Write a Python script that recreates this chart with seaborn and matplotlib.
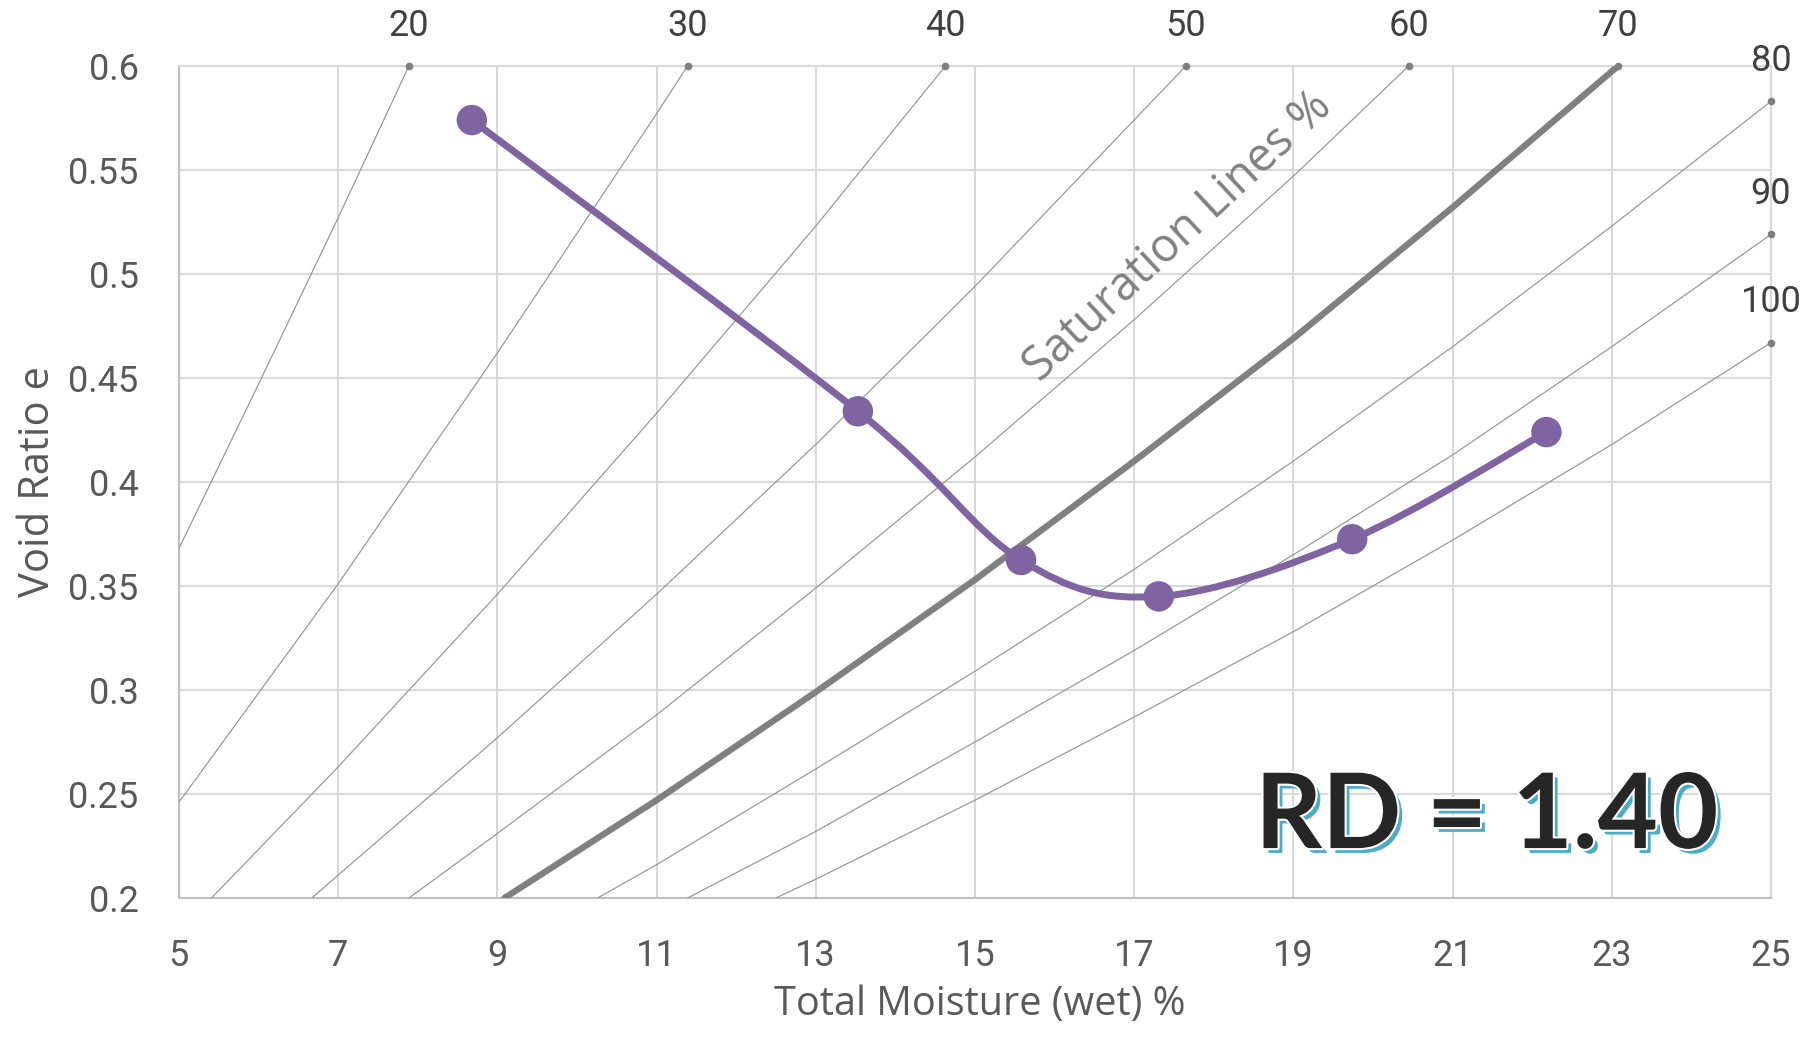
import matplotlib
matplotlib.use("Agg")
import matplotlib.pyplot as plt
import matplotlib.patheffects as pe
from matplotlib.path import Path
from matplotlib.patches import PathPatch
import seaborn as sns
import numpy as np

# ---------------- data ----------------
MOISTURE = [8.68, 13.53, 15.58, 17.31, 19.74, 22.18]      # Total moisture (wet) %
VOID_RATIO = [0.574, 0.434, 0.3625, 0.345, 0.3725, 0.424]  # void ratio e

SAT_LEVELS = [20, 30, 40, 50, 60, 70, 80, 90, 100]
SAT_20_X = [5, 6, 7, 7.89]
SAT_20_E = [0.368, 0.447, 0.527, 0.600]
SAT_30_X = [5, 7, 9, 11, 11.39]
SAT_30_E = [0.246, 0.351, 0.462, 0.577, 0.600]
SAT_40_X = [5.41, 7, 9, 11, 13, 14.63]
SAT_40_E = [0.200, 0.263, 0.346, 0.433, 0.523, 0.600]
SAT_50_X = [6.67, 7, 9, 11, 13, 15, 17, 17.65]
SAT_50_E = [0.200, 0.211, 0.277, 0.346, 0.418, 0.494, 0.574, 0.600]
SAT_60_X = [7.89, 9, 11, 13, 15, 17, 19, 20.45]
SAT_60_E = [0.200, 0.231, 0.288, 0.349, 0.412, 0.478, 0.547, 0.600]
SAT_70_X = [9.09, 11, 13, 15, 17, 19, 21, 23.08]
SAT_70_E = [0.200, 0.247, 0.299, 0.353, 0.410, 0.469, 0.532, 0.600]
SAT_80_X = [10.26, 11, 13, 15, 17, 19, 21, 23, 25]
SAT_80_E = [0.200, 0.216, 0.262, 0.309, 0.358, 0.410, 0.465, 0.523, 0.583]
SAT_90_X = [11.39, 13, 15, 17, 19, 21, 23, 25]
SAT_90_E = [0.200, 0.232, 0.275, 0.319, 0.365, 0.413, 0.465, 0.519]
SAT_100_X = [12.5, 13, 15, 17, 19, 21, 23, 25]
SAT_100_E = [0.200, 0.209, 0.247, 0.287, 0.328, 0.372, 0.418, 0.467]

SAT_X = [SAT_20_X, SAT_30_X, SAT_40_X, SAT_50_X, SAT_60_X, SAT_70_X, SAT_80_X, SAT_90_X, SAT_100_X]
SAT_E = [SAT_20_E, SAT_30_E, SAT_40_E, SAT_50_E, SAT_60_E, SAT_70_E, SAT_80_E, SAT_90_E, SAT_100_E]

X_TICKS = [5, 7, 9, 11, 13, 15, 17, 19, 21, 23, 25]
Y_TICKS = [0.2, 0.25, 0.3, 0.35, 0.4, 0.45, 0.5, 0.55, 0.6]
Y_TICK_LABELS = ["0.2", "0.25", "0.3", "0.35", "0.4", "0.45", "0.5", "0.55", "0.6"]

RD_TEXT = "RD = 1.40"
SAT_TITLE = "Saturation Lines %"
X_TITLE = "Total Moisture (wet) %"
Y_TITLE = "Void Ratio e"

# ---------------- style ----------------
sns.set_theme(style="white")
plt.rcParams["font.family"] = ["Roboto", "DejaVu Sans"]

W, H = 1813, 1037
fig = plt.figure(figsize=(W / 100, H / 100), dpi=100)
ax = fig.add_axes([178.9 / W, 1 - 898 / H, (1770.9 - 178.9) / W, (898 - 66) / H])

GRID = "#D9D9D9"
LINE_GRAY = "#959595"
PURPLE = "#8064A2"

# saturation lines
for lvl, xs, es in zip(SAT_LEVELS, SAT_X, SAT_E):
    thick = (lvl == 70)
    sns.lineplot(x=xs, y=es, ax=ax, color="#808080" if thick else LINE_GRAY,
                 linewidth=4.6 if thick else 0.85, legend=False, zorder=3,
                 solid_capstyle="round")
    ax.plot([xs[-1]], [es[-1]], marker="o", markersize=4.5, color="#7F7F7F",
            linestyle="none", zorder=4, clip_on=False)
    ax.annotate(str(lvl), xy=(xs[-1], es[-1]), xytext=(0, 29),
                textcoords="offset points", ha="center", va="center",
                fontsize=26, color="#404040", annotation_clip=False,
                family=["Roboto", "DejaVu Sans"])

# smoothed data curve (Bezier through the points, like a smoothed line)
pts = np.column_stack([MOISTURE, VOID_RATIO])
n = len(pts)
verts = [pts[0]]
codes = [Path.MOVETO]
for i in range(n - 1):
    p0 = pts[i - 1] if i > 0 else pts[i]
    p1 = pts[i]
    p2 = pts[i + 1]
    p3 = pts[i + 2] if i + 2 < n else pts[i + 1]
    c1 = p1 + (p2 - p0) / 6.0
    c2 = p2 - (p3 - p1) / 6.0
    verts += [c1, c2, p2]
    codes += [Path.CURVE4] * 3
ax.add_patch(PathPatch(Path(verts, codes), facecolor="none", edgecolor=PURPLE,
                       linewidth=5, zorder=5, capstyle="round", joinstyle="round"))
sns.scatterplot(x=MOISTURE, y=VOID_RATIO, ax=ax, color=PURPLE, s=480,
                edgecolor="none", zorder=6, legend=False)

# axes
ax.set_xlim(5, 25)
ax.set_ylim(0.2, 0.6)
ax.set_xticks(X_TICKS)
ax.set_yticks(Y_TICKS)
ax.set_yticklabels(Y_TICK_LABELS)
ax.set_xticklabels([str(v) for v in X_TICKS])
ax.grid(True, color=GRID, linewidth=1.5)
ax.set_axisbelow(True)
ax.tick_params(length=0, pad=29, labelsize=26, labelcolor="#595959")
for s in ["left", "bottom"]:
    ax.spines[s].set_color("#BFBFBF")
    ax.spines[s].set_linewidth(1.5)
for s in ["top", "right"]:
    ax.spines[s].set_color(GRID)
    ax.spines[s].set_linewidth(1.5)

ax.set_xlabel(X_TITLE, fontsize=28.5, color="#595959", va="baseline",
              family=["Open Sans", "DejaVu Sans"])
ax.xaxis.set_label_coords(0.503, -0.1406)
ax.set_ylabel(Y_TITLE, fontsize=30, color="#595959", va="baseline",
              family=["Open Sans", "DejaVu Sans"])
ax.yaxis.set_label_coords(-0.0814, 0.5)

# in-plot texts
ax.text(17.55, 0.518, SAT_TITLE, rotation=43, rotation_mode="anchor",
        ha="center", va="center", fontsize=33.5, color="#808080",
        family=["Open Sans", "DejaVu Sans"], zorder=7)

ax.text(21.43, 0.224, RD_TEXT, ha="center", va="baseline", fontsize=75,
        fontweight="bold", color="#262626", family=["Lato", "DejaVu Sans"],
        zorder=8,
        path_effects=[pe.SimplePatchShadow(offset=(3.5, -3.5), shadow_rgbFace="#4BACC6", alpha=1.0),
                      pe.Stroke(linewidth=3, foreground="white"),
                      pe.Normal()])

fig.savefig("out.png", dpi=100)
